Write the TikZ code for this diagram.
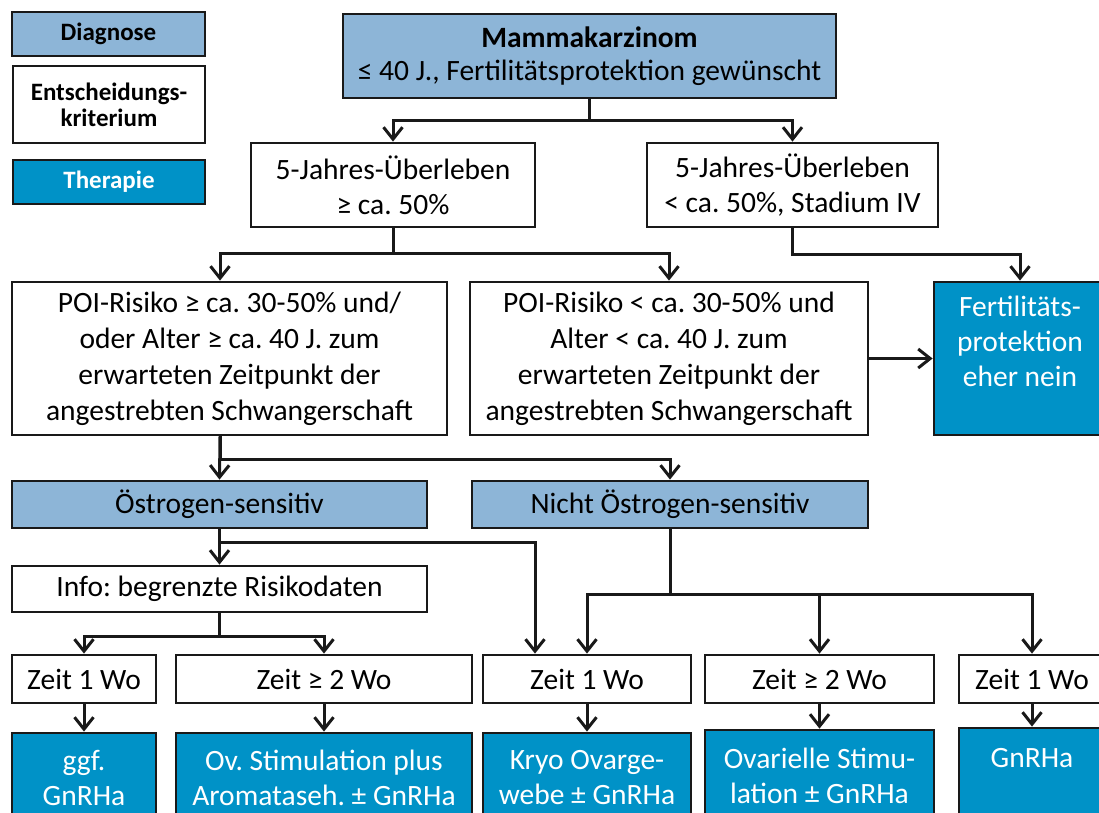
\documentclass[tikz,border=0pt]{standalone}
\usepackage{fontspec}
\setmainfont{Carlito}
\usetikzlibrary{arrows.meta,calc}
\definecolor{diagblue}{RGB}{141,181,215}
\definecolor{therblue}{RGB}{0,146,199}
\definecolor{edge}{RGB}{25,25,25}
\tikzset{
  x=1pt,y=-1pt,
  box/.style={draw=edge,line width=2.8pt,inner sep=0pt,align=center,
    font=\fontsize{29.5}{35}\selectfont,text=black},
  diagbox/.style={box,fill=diagblue},
  critbox/.style={box,fill=white},
  therbox/.style={box,fill=therblue,text=white},
  legbox/.style={box,font=\fontsize{25}{26}\selectfont\bfseries},
  conn/.style={draw=edge,line width=3pt},
  arr/.style={conn,-{Straight Barb[length=12pt,width=19pt,line width=3pt]}},
}
\begin{document}
\frenchspacing
\begin{tikzpicture}
\useasboundingbox (0,0) rectangle (1099,812);
\clip (0,0) rectangle (1099,812);
% legend
\node[legbox,fill=diagblue,minimum width=193pt,minimum height=44pt] (leg1) at (108.5,34) {Diagnose};
\node[legbox,fill=white,minimum width=192pt,minimum height=77pt] (leg2) at (109,104.5) {Entscheidungs-\\kriterium};
\node[legbox,fill=therblue,text=white,minimum width=192pt,minimum height=44pt] (leg3) at (109,182) {Therapie};
% main
\node[diagbox,minimum width=493pt,minimum height=84pt,font=\fontsize{29.5}{33}\selectfont] (mk) at (589.5,56) {\textbf{Mammakarzinom}\\≤ 40 J., Fertilitätsprotektion gewünscht};
\node[critbox,minimum width=284pt,minimum height=84pt] (s1) at (393,185) {5-Jahres-Überleben\\≥ ca. 50\%};
\node[critbox,minimum width=291pt,minimum height=84pt] (s2) at (792.5,185) {5-Jahres-Überleben\\< ca. 50\%, Stadium IV};
\node[critbox,minimum width=435pt,minimum height=153pt,font=\fontsize{29.5}{36}\selectfont] (p1) at (229.5,358.5) {POI-Risiko ≥ ca. 30-50\% und/\\oder Alter ≥ ca. 40 J. zum\\erwarteten Zeitpunkt der\\angestrebten Schwangerschaft};
\node[critbox,minimum width=398pt,minimum height=153pt,font=\fontsize{29.5}{36}\selectfont] (p2) at (669,358.5) {POI-Risiko < ca. 30-50\% und\\Alter < ca. 40 J. zum\\erwarteten Zeitpunkt der\\angestrebten Schwangerschaft};
\node[therbox,minimum width=172pt,minimum height=153pt] (fp) at (1020,358.5) {Fertilitäts-\\protektion\\eher nein\\\mbox{}};
\node[diagbox,minimum width=415pt,minimum height=47pt] (e1) at (219.5,504.5) {Östrogen-sensitiv};
\node[diagbox,minimum width=396pt,minimum height=47pt] (e2) at (670,504.5) {Nicht Östrogen-sensitiv};
\node[critbox,minimum width=415pt,minimum height=46pt] (info) at (219.5,589) {Info: begrenzte Risikodaten};
\node[critbox,minimum width=144pt,minimum height=48pt] (z1) at (84,679) {Zeit 1 Wo};
\node[critbox,minimum width=296pt,minimum height=48pt] (z2) at (324,679) {Zeit ≥ 2 Wo};
\node[critbox,minimum width=208pt,minimum height=48pt] (z3) at (587,679) {Zeit 1 Wo};
\node[critbox,minimum width=229pt,minimum height=48pt] (z4) at (819.5,679) {Zeit ≥ 2 Wo};
\node[critbox,minimum width=146pt,minimum height=48pt] (z5) at (1032,679) {Zeit 1 Wo};
\node[therbox,minimum width=144pt,minimum height=89pt] (t1) at (84,777.5) {ggf.\\GnRHa};
\node[therbox,minimum width=296pt,minimum height=89pt] (t2) at (324,777.5) {Ov. Stimulation plus\\Aromataseh. ± GnRHa};
\node[therbox,minimum width=208pt,minimum height=89pt] (t3) at (587,777.5) {Kryo Ovarge-\\webe ± GnRHa};
\node[therbox,minimum width=229pt,minimum height=92pt] (t4) at (819.5,776) {Ovarielle Stimu-\\lation ± GnRHa};
\node[therbox,minimum width=146pt,minimum height=94pt] (t5) at (1032,775) {GnRHa\\\mbox{}};
% connectors
\coordinate (c1) at (220,0);
\draw[arr] (mk.south) -- ++(0,21) -| (s1.north);
\draw[arr] (mk.south) -- ++(0,21) -| (s2.north);
\draw[arr] (s1.south) -- ++(0,25) -| (c1 |- p1.north);
\draw[arr] (s1.south) -- ++(0,25) -| (p2.north);
\draw[arr] (s2.south) -- ++(0,26) -| (fp.north);
\draw[arr] (p2.east) -- (fp.west);
\draw[arr] (c1 |- p1.south) -- (e1.north);
\draw[arr] (c1 |- p1.south) -- ++(0,23) -| (e2.north);
\draw[arr] (e1.south) -- (info.north);
\draw[arr] (e1.south) -- ++(0,13) -| ($(z3.north)+(-52,0)$);
\draw[arr] (e2.south) -- ++(0,65) -| (z3.north);
\draw[arr] (e2.south) -- ++(0,65) -| (z4.north);
\draw[arr] (e2.south) -- ++(0,65) -| (z5.north);
\draw[arr] (info.south) -- ++(0,23) -| (z1.north);
\draw[arr] (info.south) -- ++(0,23) -| (z2.north);
\draw[arr] (z1.south) -- (t1.north);
\draw[arr] (z2.south) -- (t2.north);
\draw[arr] (z3.south) -- (t3.north);
\draw[arr] (z4.south) -- (t4.north);
\draw[arr] (z5.south) -- (t5.north);
\end{tikzpicture}
\end{document}
